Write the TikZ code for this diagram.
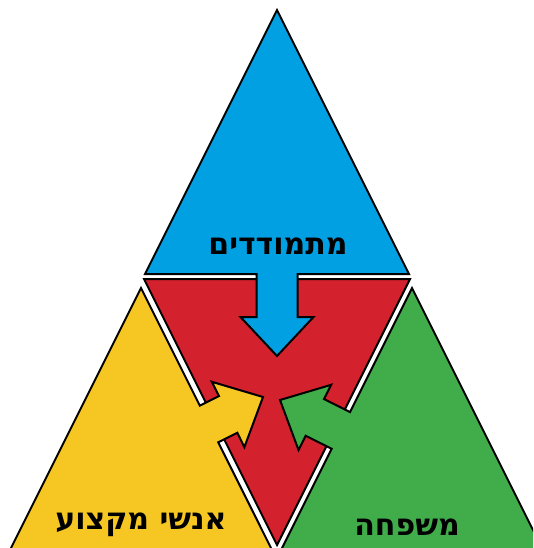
\documentclass[tikz,border=0pt]{standalone}
\usepackage{fontspec}
\newfontfamily\hebfont[Script=Hebrew]{DejaVu Sans}
\TeXXeTstate=1
\definecolor{cblue}{RGB}{0,160,227}
\definecolor{cred}{RGB}{211,33,45}
\definecolor{cyellow}{RGB}{246,199,35}
\definecolor{cgreen}{RGB}{64,173,74}
\tikzset{
  part/.style={draw=black, line width=2pt, line join=miter},
  lbl/.style={font=\hebfont\bfseries\fontsize{30}{34}\selectfont, text=black, inner sep=0pt}
}
\begin{document}
\begin{tikzpicture}[x=1pt,y=-1pt]
\useasboundingbox (0,0) rectangle (533,548);
\clip (0,0) rectangle (533,548);
% centre (red)
\draw[part, fill=cred] (144,279) -- (410,279) -- (277,545) -- cycle;
% top (blue) with arrow
\draw[part, fill=cblue] (277,10) -- (409,274) -- (297.5,274) -- (297.5,317)
  -- (313.5,317) -- (277,356) -- (240.5,317) -- (256.5,317) -- (256.5,274)
  -- (145,274) -- cycle;
% left (yellow) with arrow
\draw[part, fill=cyellow] (141,288) -- (199.83,405.66) -- (218.95,396.1)
  -- (211.8,381.8) -- (263,397) -- (244.4,447.1) -- (237.3,432.8)
  -- (218.2,442.36) -- (276,558) -- (6,558) -- cycle;
% right (green) with arrow
\draw[part, fill=cgreen] (412,288) -- (547,558) -- (277,558)
  -- (331.63,448.74) -- (305.71,435.78) -- (298.56,450.1) -- (280,400)
  -- (331.2,384.8) -- (324.05,399.1) -- (349.97,412.06) -- cycle;
% labels
\node[lbl] (top) at (278,246) {\beginR מתמודדים\endR};
\node[lbl] (left) at (141,525) {\beginR אנשי מקצוע\endR};
\node[lbl] (right) at (407,527) {\beginR משפחה\endR};
\end{tikzpicture}
\end{document}
